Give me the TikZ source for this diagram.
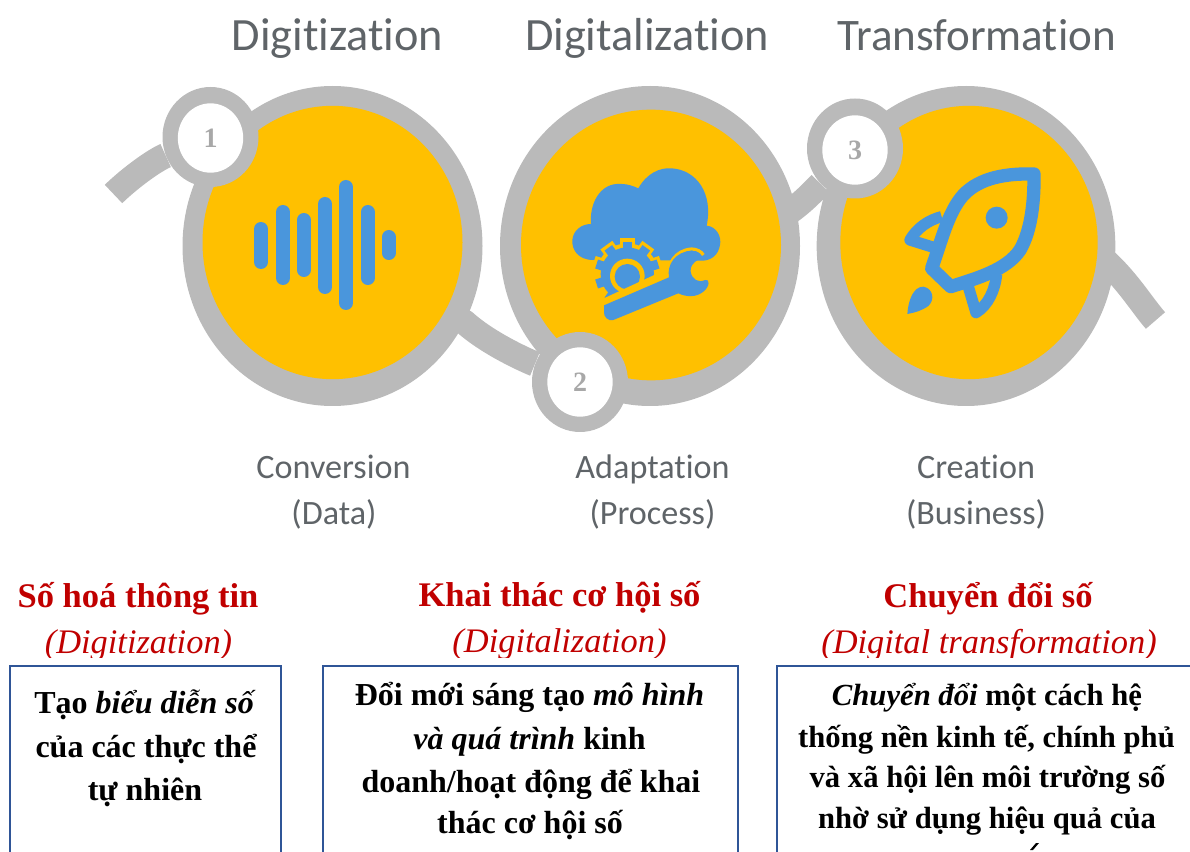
\documentclass[tikz,border=0pt]{standalone}
\usepackage{fontspec}
\setmainfont{Liberation Serif}
\newfontfamily\capfont[Ligatures=NoCommon]{Carlito}
\usetikzlibrary{shapes.geometric,backgrounds}
\definecolor{ringgrey}{HTML}{BABABA}
\definecolor{sun}{HTML}{FFC000}
\definecolor{iconblue}{HTML}{4A96DC}
\definecolor{headred}{HTML}{C00000}
\definecolor{boxblue}{HTML}{2F5597}
\definecolor{capgrey}{HTML}{5F6468}
\definecolor{numgrey}{HTML}{A8A8A8}
\tikzset{
  bigring/.style={ellipse,fill=ringgrey,inner sep=0pt,minimum width=225pt,minimum height=240pt},
  bigsun/.style={ellipse,fill=sun,inner sep=0pt,minimum width=195pt,minimum height=205pt},
  smallring/.style={ellipse,fill=ringgrey,inner sep=0pt,minimum width=72pt,minimum height=75pt},
  smallwhite/.style={ellipse,fill=white,inner sep=0pt,minimum width=49pt,minimum height=52pt,text=numgrey,font=\bfseries\fontsize{21}{21}\selectfont},
  link/.style={draw=ringgrey,line width=19pt},
  title/.style={anchor=base,text=capgrey,inner sep=0pt,font=\capfont\fontsize{34.7}{34.7}\selectfont},
  titlet/.style={anchor=base,text=capgrey,inner sep=0pt,font=\capfont\fontsize{33.8}{33.8}\selectfont},
  sub/.style={anchor=base,text=capgrey,inner sep=0pt,font=\capfont\fontsize{25.6}{25.6}\selectfont},
  head/.style={anchor=base,text=headred,inner sep=0pt,font=\bfseries\fontsize{25.9}{25.9}\selectfont},
  headit/.style={anchor=base,text=headred,inner sep=0pt,font=\itshape\fontsize{25.8}{25.8}\selectfont},
  bodyline/.style={anchor=base,text=black,inner sep=0pt,font=\bfseries\fontsize{24}{24}\selectfont},
  bodylinet/.style={anchor=base,text=black,inner sep=0pt,font=\bfseries\fontsize{23}{23}\selectfont},
  boxline/.style={draw=boxblue,line width=1.5pt},
  bar/.style={draw=iconblue,line width=10.5pt,line cap=round},
}
\begin{document}
\begin{tikzpicture}[x=0.75pt,y=-0.75pt]
\useasboundingbox (0,0) rectangle (1190,852);
% big circles
\node[bigring] (c1) at (332.5,246) {};
\node[bigring] (c2) at (650,246) {};
\node[bigring,minimum width=224pt] (c3) at (966,246) {};
\node[bigsun] (y1) at (332.5,242.5) {};
\node[bigsun,minimum height=203pt] (y2) at (651,245) {};
\node[bigsun,minimum width=193pt] (y3) at (969,242.5) {};
\node[smallring] (r1) at (210.5,137) {};
\node[smallring] (r2) at (580,382) {};
\node[smallring] (r3) at (855,148.5) {};
\node[smallwhite] (s1) at (210.5,138) {1};
\node[smallwhite] (s2) at (580,382) {2};
\node[smallwhite] (s3) at (855,150) {3};
\coordinate (tl) at (113.5,194);
\coordinate (tr) at (1155.5,320.5);
\begin{scope}[on background layer]
\draw[link] (tl) .. controls (131,177) and (155,160) .. (r1);
\draw[link] (c1.center) -- (c1.-30) .. controls (490,345) and (530,362) .. (r2);
\draw[link] (c2.center) .. controls (760,250) and (800,205) .. (r3);
\draw[link] (c3.center) .. controls (1080,190) and (1128,290) .. (tr);
\end{scope}
% sound wave
\draw[bar] (261,229) -- (261,262);
\draw[bar] (283,212) -- (283,278);
\draw[bar] (303.7,220) -- (303.7,270);
\draw[bar] (325,204) -- (325,287);
\draw[bar] (346,187) -- (346,303);
\draw[bar] (367.7,212) -- (367.7,278);
\draw[bar] (388.7,237) -- (388.7,253);
% cloud, gear and wrench
\begin{scope}[shift={(490,70)},x=0.25pt,y=-0.25pt]
\fill[iconblue] (310,570) .. controls (265,570) and (245,540) .. (247,510)
  .. controls (250,480) and (275,462) .. (303,462)
  .. controls (298,400) and (330,345) .. (380,342)
  .. controls (410,340) and (430,348) .. (445,355)
  .. controls (470,310) and (510,292) .. (545,295)
  .. controls (620,300) and (670,370) .. (650,467)
  .. controls (680,470) and (695,500) .. (690,525)
  .. controls (685,555) and (665,570) .. (640,572) -- cycle;
\fill[sun] (412,612) circle[radius=92];
\foreach \a in {0,36,...,324}
  \draw[sun,line width=11pt,rotate around={\a:(412,612)}] (412,530) -- (412,505);
\foreach \a in {0,36,...,324}
  \draw[iconblue,line width=7pt,rotate around={\a:(412,612)}] (412,540) -- (412,515);
\fill[iconblue] (412,612) circle[radius=80];
\fill[sun] (412,618) circle[radius=52];
\fill[iconblue] (412,620) circle[radius=38];
% yellow cut under the gear
\fill[sun] (320,695) -- (525,600) -- (570,700) -- (400,790) -- cycle;
% halo and wrench
\draw[sun,line width=2.4pt,line join=round] (535,622) .. controls (530,585) and (555,540) .. (605,537)
  .. controls (620,537) and (635,545) .. (640,555);
\fill[iconblue] (342,706) -- (537,622) .. controls (530,585) and (555,545) .. (605,542)
  .. controls (625,542) and (640,555) .. (628,567)
  .. controls (608,578) and (600,590) .. (602,605)
  .. controls (606,628) and (625,640) .. (645,630)
  .. controls (660,625) and (660,650) .. (640,665)
  .. controls (620,682) and (590,682) .. (565,670)
  -- (370,750) .. controls (355,755) and (340,740) .. (342,725) -- cycle;
\end{scope}
% rocket
\begin{scope}[shift={(800,70)},x=0.25pt,y=-0.25pt]
\draw[iconblue,line width=10pt,line join=round] (702,312)
  .. controls (620,310) and (540,322) .. (490,375)
  .. controls (445,425) and (425,510) .. (395,595)
  -- (452,650)
  .. controls (530,625) and (620,600) .. (660,540)
  .. controls (695,480) and (703,390) .. (702,312) -- cycle;
\fill[iconblue] (590,443) circle[radius=33];
\draw[iconblue,line width=8.5pt,line join=round] (425,440) .. controls (385,450) and (350,475) .. (330,510) -- (410,535);
\draw[iconblue,line width=8.5pt,line join=round] (505,650) -- (528,728) .. controls (565,705) and (585,660) .. (590,612);
\fill[iconblue] (322,732) .. controls (325,690) and (340,650) .. (370,650)
  .. controls (400,655) and (405,690) .. (385,708)
  .. controls (365,722) and (345,728) .. (322,732) -- cycle;
\end{scope}
% captions
\node[title] (t1) at (337.5,51) {Digitization};
\node[title] (t2) at (647,51) {Digitalization};
\node[titlet] (t3) at (976.5,51) {Transformation};
\node[sub] (a1) at (333.5,479) {Conversion};
\node[sub] (b1) at (334,524) {(Data)};
\node[sub] (a2) at (652.5,479) {Adaptation};
\node[sub] (b2) at (652.5,524) {(Process)};
\node[sub] (a3) at (976,479) {Creation};
\node[sub] (b3) at (976,524) {(Business)};
% red headings
\node[head] (h1) at (138,607) {Số hoá thông tin};
\node[head] (h2) at (559.5,606) {Khai thác cơ hội số};
\node[head] (h3) at (988,607) {Chuyển đổi số};
\begin{scope}
\clip (0,620) rectangle (1190,657);
\node[headit] (i1) at (138.5,653) {(Digitization)};
\node[headit] (i2) at (559.5,652) {(Digitalization)};
\node[headit] (i3) at (989,653) {(Digital transformation)};
\end{scope}
% boxes
\draw[boxline] (10,852) -- (10,666) -- (281,666) -- (281,852);
\draw[boxline] (322.5,852) -- (322.5,666) -- (738,666) -- (738,852);
\draw[boxline] (776.5,852) -- (776.5,666) -- (1190,666);
% box text
\node[bodyline] (l11) at (145,713) {Tạo \textit{biểu diễn số}};
\node[bodyline] (l12) at (146,757) {của các thực thể};
\node[bodyline] (l13) at (145,800) {tự nhiên};
\node[bodyline] (l21) at (529.5,705) {Đổi mới sáng tạo \textit{mô hình}};
\node[bodyline] (l22) at (529.5,749) {\textit{và quá trình} kinh};
\node[bodyline] (l23) at (531,792) {doanh/hoạt động để khai};
\node[bodyline] (l24) at (530,833) {thác cơ hội số};
\node[bodylinet] (l31) at (987,705) {\textit{Chuyển đổi} một cách hệ};
\node[bodylinet] (l32) at (986.5,747) {thống nền kinh tế, chính phủ};
\node[bodylinet] (l33) at (987.5,787) {và xã hội lên môi trường số};
\node[bodylinet] (l34) at (987,828) {nhờ sử dụng hiệu quả của};
\fill (1030,850) -- (1036,843) -- (1039,843) -- (1033,850) -- cycle;
\end{tikzpicture}
\end{document}
